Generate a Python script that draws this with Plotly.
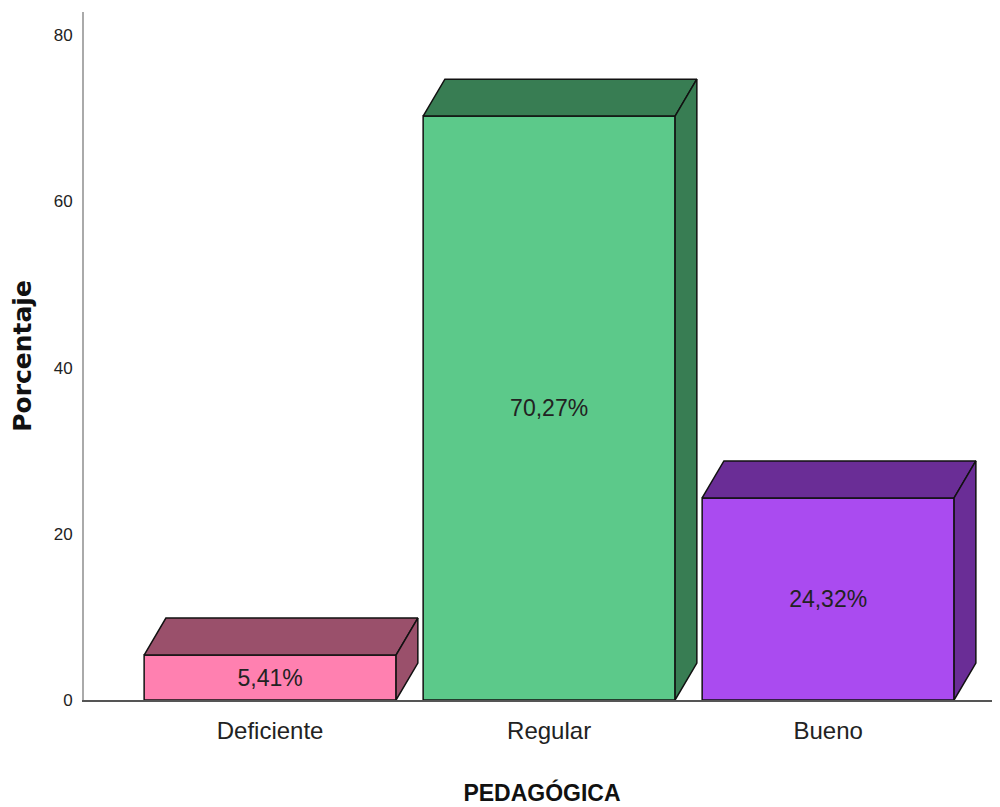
import plotly.graph_objects as go

categories = ["Deficiente", "Regular", "Bueno"]
percentages = [5.41, 70.27, 24.32]
labels = ["5,41%", "70,27%", "24,32%"]
front_colors = ["#FF80B0", "#5CC98A", "#AA4BF0"]
dark_colors = ["#9A506B", "#387D53", "#6A2D96"]

FONT = "Liberation Sans Narrow, Arial Narrow, Liberation Sans, sans-serif"
BAR_W = 0.903
DX = 0.078   # depth offset in category units
DY = 4.45    # depth offset in percent units

xs = list(range(len(categories)))

fig = go.Figure()

fig.add_trace(
    go.Bar(
        x=xs,
        y=percentages,
        width=BAR_W,
        marker=dict(color=front_colors, line=dict(color="#111111", width=1.5)),
        text=labels,
        textposition="inside",
        insidetextanchor="middle",
        textfont=dict(family=FONT, size=23, color="#222222"),
        hoverinfo="skip",
        showlegend=False,
    )
)

for x, v, dark in zip(xs, percentages, dark_colors):
    x0 = x - BAR_W / 2
    x1 = x + BAR_W / 2
    # top face
    fig.add_trace(
        go.Scatter(
            x=[x0, x0 + DX, x1 + DX, x1, x0],
            y=[v, v + DY, v + DY, v, v],
            mode="lines",
            fill="toself",
            fillcolor=dark,
            line=dict(color="#111111", width=1.5),
            hoverinfo="skip",
            showlegend=False,
        )
    )
    # side face
    fig.add_trace(
        go.Scatter(
            x=[x1, x1 + DX, x1 + DX, x1, x1],
            y=[0, DY, v + DY, v, 0],
            mode="lines",
            fill="toself",
            fillcolor=dark,
            line=dict(color="#111111", width=1.5),
            hoverinfo="skip",
            showlegend=False,
        )
    )

# the page has an 8px body margin, so margins are shifted to compensate
fig.update_layout(
    width=1000,
    height=807,
    margin=dict(l=76, r=8, t=4, b=115),
    paper_bgcolor="white",
    plot_bgcolor="white",
    font=dict(family=FONT, color="#222222"),
    xaxis=dict(
        range=[-0.667, 2.616],
        tickvals=xs,
        ticktext=categories,
        tickfont=dict(size=24, color="#222222"),
        ticks="",
        ticklabelstandoff=8,
        showgrid=False,
        zeroline=False,
        showline=True,
        linecolor="#555555",
        linewidth=1.5,
        automargin=False,
        title=dict(
            text="<b>PEDAGÓGICA</b>",
            font=dict(size=23, color="#111111"),
            standoff=42,
        ),
    ),
    yaxis=dict(
        range=[0, 82.8],
        tickvals=[0, 20, 40, 60, 80],
        tickfont=dict(size=17, color="#222222"),
        ticks="",
        ticklabelstandoff=6,
        showgrid=False,
        zeroline=False,
        showline=True,
        linecolor="#aaaaaa",
        linewidth=2,
        automargin=False,
        title=dict(
            text="<b>Porcentaje</b>",
            font=dict(family="DejaVu Sans, sans-serif", size=25, color="#111111"),
            standoff=30,
        ),
    ),
)

fig.write_html("out.html")
